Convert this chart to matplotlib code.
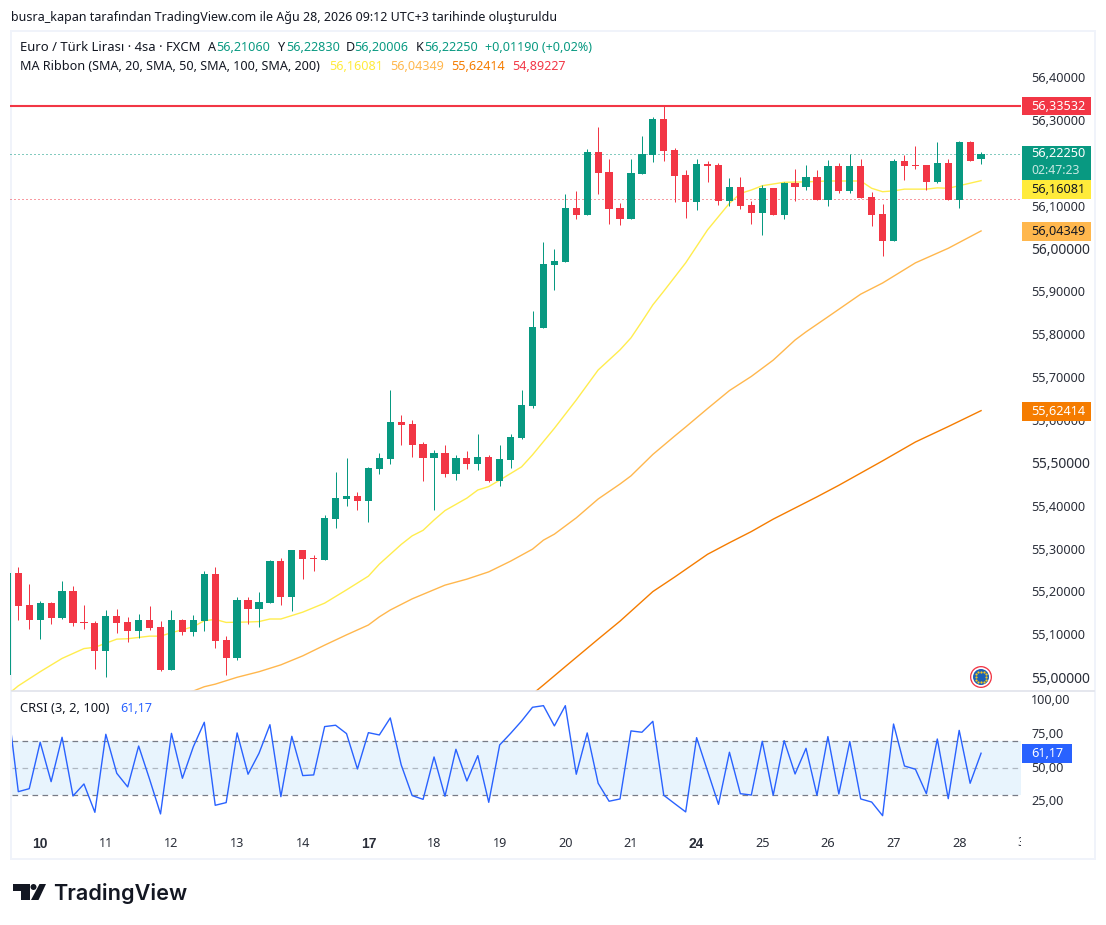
import numpy as np
import matplotlib
matplotlib.use("Agg")
import matplotlib.pyplot as plt
from matplotlib.patches import Rectangle, Circle, Polygon
from matplotlib.transforms import ScaledTranslation

plt.rcParams['font.family'] = ['Noto Sans', 'DejaVu Sans']

opens = [55.007,55.245,55.171,55.136,55.175,55.140,55.203,55.131,55.129,55.063,
         55.145,55.131,55.110,55.136,55.119,55.019,55.136,55.108,55.133,55.243,
         55.089,55.047,55.182,55.161,55.175,55.273,55.189,55.299,55.280,55.276,
         55.371,55.418,55.425,55.413,55.488,55.511,55.598,55.593,55.546,55.514,
         55.525,55.476,55.514,55.500,55.516,55.460,55.509,55.560,55.635,55.817,
         55.964,55.971,56.097,56.081,56.228,56.181,56.097,56.071,56.176,56.221,
         56.305,56.232,56.174,56.111,56.200,56.197,56.113,56.146,56.104,56.085,
         56.144,56.081,56.155,56.146,56.169,56.116,56.195,56.137,56.195,56.123,
         56.083,56.020,56.207,56.197,56.197,56.158,56.202,56.116,56.251,56.2106]
highs = [55.250,55.259,55.220,55.180,55.178,55.227,55.215,55.171,55.133,55.159,
         55.161,55.143,55.150,55.168,55.133,55.159,55.138,55.147,55.250,55.259,
         55.098,55.189,55.189,55.201,55.276,55.280,55.299,55.299,55.287,55.381,
         55.481,55.514,55.434,55.493,55.525,55.672,55.614,55.602,55.551,55.532,
         55.544,55.521,55.530,55.570,55.521,55.544,55.570,55.672,55.857,56.018,
         56.001,56.130,56.137,56.235,56.286,56.211,56.109,56.211,56.265,56.309,
         56.335,56.237,56.186,56.211,56.207,56.202,56.167,56.169,56.113,56.151,
         56.144,56.158,56.188,56.197,56.186,56.209,56.202,56.223,56.211,56.134,
         56.106,56.211,56.221,56.242,56.197,56.251,56.211,56.253,56.253,56.2283]
lows = [55.005,55.136,55.115,55.091,55.126,55.138,55.122,55.115,55.021,55.003,
        55.105,55.084,55.094,55.112,55.017,55.019,55.101,55.098,55.110,55.070,
        55.007,55.042,55.126,55.119,55.175,55.171,55.157,55.231,55.250,55.276,
        55.350,55.402,55.392,55.365,55.476,55.500,55.544,55.516,55.460,55.392,
        55.469,55.462,55.488,55.486,55.458,55.448,55.490,55.558,55.630,55.817,
        55.906,55.971,56.071,56.081,56.130,56.060,56.057,56.071,56.176,56.204,
        56.207,56.111,56.074,56.092,56.158,56.104,56.102,56.095,56.060,56.034,
        56.081,56.071,56.113,56.139,56.116,56.102,56.132,56.132,56.120,56.055,
        55.985,56.020,56.162,56.188,56.139,56.155,56.116,56.097,56.207,56.20006]
closes = [55.245,55.168,55.136,55.175,55.140,55.203,55.129,55.129,55.063,55.145,
          55.129,55.110,55.136,55.117,55.019,55.136,55.108,55.136,55.243,55.087,
          55.047,55.182,55.161,55.178,55.273,55.189,55.299,55.278,55.278,55.374,
          55.420,55.425,55.413,55.490,55.514,55.598,55.591,55.544,55.514,55.525,
          55.476,55.514,55.500,55.516,55.460,55.511,55.563,55.637,55.819,55.966,
          55.973,56.097,56.081,56.228,56.179,56.095,56.071,56.179,56.223,56.305,
          56.230,56.172,56.111,56.200,56.195,56.113,56.146,56.102,56.085,56.144,
          56.081,56.155,56.146,56.169,56.116,56.195,56.137,56.195,56.120,56.081,
          56.020,56.207,56.195,56.195,56.158,56.202,56.116,56.251,56.207,56.2225]

sma20_bars = [0,1,3,5,7,8,10,11,13,14,15,17,18,19,20,22,23,24,25,27,29,31,33,34,36,37,38,39,40,42,
              43,44,45,47,48,50,52,54,56,57,58,59,60,61,62,64,66,67,68,69,71,73,75,78,79,80,81,82,84,85,86,87,89]
sma20 = [54.961,54.982,55.015,55.046,55.069,55.072,55.091,55.092,55.098,55.098,55.106,55.120,55.134,55.137,
         55.130,55.131,55.132,55.138,55.138,55.154,55.175,55.206,55.238,55.266,55.312,55.332,55.345,55.369,
         55.391,55.420,55.439,55.447,55.462,55.493,55.521,55.583,55.649,55.719,55.766,55.794,55.832,55.871,
         55.903,55.936,55.969,56.046,56.108,56.131,56.139,56.149,56.157,56.158,56.160,56.160,56.143,56.135,
         56.137,56.141,56.141,56.144,56.143,56.149,56.16081]

sma50_bars = [16,17,18,19,21,23,25,27,29,31,33,34,35,37,40,42,44,46,47,48,49,50,52,54,56,57,59,61,62,64,
              66,68,70,72,73,75,78,80,83,86,89]
sma50 = [54.965,54.970,54.980,54.986,55.002,55.015,55.031,55.052,55.077,55.101,55.124,55.143,55.159,55.185,
         55.217,55.231,55.248,55.273,55.287,55.301,55.322,55.336,55.374,55.418,55.453,55.472,55.522,55.565,
         55.586,55.629,55.671,55.704,55.742,55.789,55.808,55.843,55.896,55.922,55.969,56.003,56.04349]

sma100_bars = [48,49,51,54,56,59,61,64,66,68,70,72,74,76,80,83,86,89]
sma100 = [54.963,54.984,55.027,55.091,55.133,55.202,55.236,55.289,55.316,55.342,55.371,55.397,55.423,55.450,
          55.507,55.551,55.587,55.62414]

crsi = [99.0,32.7,34.9,69.3,40.1,73.0,29.5,38.4,17.4,75.2,46.3,36.2,66.5,41.9,16.2,75.9,42.6,66.0,84.1,22.6,
        24.6,76.2,45.6,61.1,82.3,29.0,73.7,44.6,45.1,80.9,81.9,75.7,49.5,76.4,74.7,87.3,52.5,29.8,27.0,58.4,
        29.3,64.1,40.6,59.4,24.8,67.3,75.9,85.0,95.2,96.4,81.4,96.4,45.6,76.2,38.9,25.6,27.3,77.7,76.7,84.8,
        30.0,23.8,17.7,72.7,48.0,23.3,61.9,31.2,30.2,70.0,30.0,70.5,45.8,64.8,30.0,73.5,31.0,69.8,27.3,25.0,
        14.9,82.8,51.7,49.3,31.2,71.7,27.5,78.1,38.9,61.17]

price_ticks = [55.0,55.1,55.2,55.3,55.4,55.5,55.6,55.7,55.8,55.9,56.0,56.1,56.2,56.3,56.4]
major_prices = [55.0,55.5,56.0]
crsi_ticks = [25,50,75,100]
day_bars = [3,9,15,21,27,33,39,45,51,57,63,69,75,81,87]
day_labels = ['10','11','12','13','14','17','18','19','20','21','24','25','26','27','28']
bold_days = ['10','17','24']
high_line = 56.33532
last_price = 56.2225
low_dot = 56.117

UP = '#089981'
DOWN = '#f23645'
TEXT = '#131722'
AXTEXT = '#2a2e39'
W, H = 1106, 925
fig = plt.figure(figsize=(W/100, H/100), dpi=100, facecolor='white')

def pane(x0, y0, x1, y1):
    return fig.add_axes([x0/W, 1-y1/H, (x1-x0)/W, (y1-y0)/H])

def lift(labels, px):
    # move tick labels up by a few pixels
    for lab in labels:
        lab.set_transform(lab.get_transform() + ScaledTranslation(0, px/100, fig.dpi_scale_trans))

# left border goes under the panes so the cut first candle still shows on it
fig.add_artist(Rectangle((10/W, 1-859.5/H), 2/W, 830/H, transform=fig.transFigure, color='#f0f3fa', lw=0, zorder=-1))

ax = pane(10, 31, 1021, 691)
ax.patch.set_alpha(0)
ax.set_xlim(0.2416, 92.65)
ax.set_ylim(54.970, 56.510)
bars = np.arange(len(opens))
o = np.array(opens)
c = np.array(closes)
cols = [UP if c[i] >= o[i] else DOWN for i in bars]
ax.vlines(bars, lows, highs, colors=cols, lw=0.72, zorder=3)
ax.bar(bars, np.abs(c-o), bottom=np.minimum(o, c), width=0.66, color=cols, lw=0, zorder=4)
ax.plot(sma20_bars, sma20, color='#ffeb3b', lw=1.0, alpha=0.9, zorder=2)
ax.plot(sma50_bars, sma50, color='#ffb74d', lw=1.0, zorder=2)
ax.plot(sma100_bars, sma100, color='#f57c00', lw=1.0, zorder=2)
ax.axhline(high_line, color=DOWN, lw=1.5, zorder=5)
ax.axhline(last_price, color=UP, lw=0.72, ls=(0, (1, 3)), zorder=1)
ax.axhline(low_dot, color=DOWN, lw=0.72, ls=(0, (1, 3)), zorder=1)
ax.set_xticks([])
ax.yaxis.tick_right()
ax.set_yticks(price_ticks)
ax.set_yticklabels([('%.5f' % p).replace('.', ',') for p in price_ticks])
for lab, p in zip(ax.get_yticklabels(), price_ticks):
    lab.set_color(AXTEXT)
    lab.set_fontsize(10.0 if p in major_prices else 9.1)
ax.tick_params(axis='y', length=0, pad=7.2)
lift(ax.get_yticklabels(), 1)
for s in ax.spines.values():
    s.set_visible(False)

ax2 = pane(12, 692, 1021, 827)
ax2.set_xlim(0.333+1/10.94, 92.65)
ax2.set_ylim(50-(827-768.3)/1.35, 50+(768.3-692)/1.35)
ax2.axhspan(30, 70, color='#2196f3', alpha=0.1, lw=0)
ax2.axhline(70, color='#787b86', lw=0.9, ls=(0, (4.5, 3.5)))
ax2.axhline(50, color='#787b86', lw=0.9, ls=(0, (4.5, 3.5)), alpha=0.5)
ax2.axhline(30, color='#787b86', lw=0.9, ls=(0, (4.5, 3.5)))
ax2.plot(bars, crsi, color='#2962ff', lw=1.0, zorder=3)
ax2.yaxis.tick_right()
ax2.set_yticks(crsi_ticks)
ax2.set_yticklabels(['%d,00' % v for v in crsi_ticks])
for lab in ax2.get_yticklabels():
    lab.set_color(AXTEXT)
    lab.set_fontsize(9.1)
ax2.tick_params(axis='y', length=0, pad=7.2)
lift(ax2.get_yticklabels(), 1.7)
ax2.set_xticks(day_bars)
ax2.set_xticklabels(day_labels)
for lab in ax2.get_xticklabels():
    lab.set_fontsize(9.1)
    lab.set_color(AXTEXT)
    if lab.get_text() in bold_days:
        lab.set_family('Liberation Sans')
        lab.set_fontweight('bold')
        lab.set_fontsize(10)
ax2.tick_params(axis='x', length=0, pad=7.5)
for s in ax2.spines.values():
    s.set_visible(False)

# overlay in pixel coordinates for frame, labels, logo
ov = fig.add_axes([0, 0, 1, 1], zorder=10)
ov.set_xlim(0, W)
ov.set_ylim(H, 0)
ov.axis('off')
ov.patch.set_alpha(0)

for r in [(10, 29.5, 1086, 2), (10, 857.5, 1086, 2), (1094, 29.5, 2, 830)]:
    ov.add_patch(Rectangle(r[:2], r[2], r[3], color='#f0f3fa', lw=0))
ov.plot([12, 1094], [691.3, 691.3], color='#e0e3eb', lw=1.2)

def flag(y0, y1, col, txt, tcol, x1=1091, size=9.1):
    ov.add_patch(Rectangle((1022, y0), x1-1022, y1-y0, color=col, lw=0, zorder=5))
    ov.text(1031, (y0+y1)/2, txt, color=tcol, fontsize=size, va='center', ha='left', zorder=6)

flag(97, 115, DOWN, '56,33532', 'white')
ov.add_patch(Rectangle((1022, 146), 69, 34, color=UP, lw=0, zorder=5))
ov.text(1031, 153.5, '56,22250', color='white', fontsize=9.1, va='center', zorder=6)
ov.text(1031, 171, '02:47:23', color='#c8e8e2', fontsize=8.8, va='center', zorder=6)
flag(180, 199, '#ffeb3b', '56,16081', TEXT)
flag(222, 241, '#ffb74d', '56,04349', TEXT)
flag(402, 421, '#f57c00', '55,62414', 'white')
flag(744, 763, '#2962ff', '61,17', 'white', x1=1072)

t3 = ov.text(1021, 843, '3', color=AXTEXT, fontsize=9.1, va='center', ha='center', clip_on=True)
t3.set_clip_path(Rectangle((11, 830), 1010, 25, transform=ov.transData))

ov.text(11, 20.5, 'busra_kapan tarafından TradingView.com ile Ağu 28, 2026 09:12 UTC+3 tarihinde oluşturuldu',
        color=TEXT, fontsize=9.0, va='baseline')
ov.text(20, 51, 'Euro / Türk Lirası · 4sa · FXCM', color=TEXT, fontsize=9.4, va='baseline')
for x, letter, val in [(208, 'A', '56,21060'), (278, 'Y', '56,22830'), (346, 'D', '56,20006'), (416, 'K', '56,22250')]:
    ov.text(x, 51, letter, color=TEXT, fontsize=9.05, va='baseline')
    ov.text(x+8, 51, val, color=UP, fontsize=9.05, va='baseline')
ov.text(485, 51, '+0,01190 (+0,02%)', color=UP, fontsize=9.05, va='baseline')
ov.text(20, 69.5, 'MA Ribbon (SMA, 20, SMA, 50, SMA, 100, SMA, 200)', color=TEXT, fontsize=9.05, va='baseline')
for x, val, col in [(329, '56,16081', '#ffeb3b'), (390, '56,04349', '#ffb74d'), (451, '55,62414', '#f57c00'), (512, '54,89227', DOWN)]:
    ov.text(x, 69.5, val, color=col, fontsize=9.05, va='baseline')
ov.text(20, 712.5, 'CRSI (3, 2, 100)', color=TEXT, fontsize=9.3, va='baseline')
ov.text(120, 712.5, '61,17', color='#2962ff', fontsize=9.05, va='baseline')

# euro badge
ov.add_patch(Circle((981, 677), 11, color=DOWN, lw=0))
ov.add_patch(Circle((981, 677), 9.7, color='white', lw=0))
ov.add_patch(Circle((981, 677), 8, color='#1b5fb5', lw=0))
ang = np.arange(12)*np.pi/6
ov.scatter(981+5.3*np.cos(ang), 677+5.3*np.sin(ang), s=2.6, color='#f5c518', lw=0, zorder=5)

# logo
ov.add_patch(Polygon([(13, 884), (29.5, 884), (29.5, 900), (20.5, 900), (20.5, 890.5), (13, 890.5)], color=TEXT, lw=0))
ov.add_patch(Circle((33.5, 887), 3, color=TEXT, lw=0))
ov.add_patch(Polygon([(39.5, 884), (46, 884), (38.5, 900), (31, 900)], color=TEXT, lw=0))
ov.text(53, 899.5, 'TradingView', color=TEXT, fontsize=15.6, fontfamily='Inter', fontweight='semibold', va='baseline')

fig.savefig('out.png', dpi=100, facecolor='white')
